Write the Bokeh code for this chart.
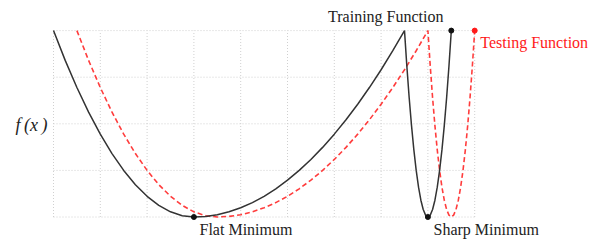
from bokeh.plotting import figure
from bokeh.models import Range1d, Label
from bokeh.embed import file_html
from bokeh.resources import INLINE

# ---- data ----
train_x = [0, 0.25, 0.5, 0.75, 1, 1.25, 1.5, 1.75, 2, 2.25, 2.5, 2.75, 3,
           3.25, 3.5, 3.75, 4, 4.25, 4.5, 4.75, 5, 5.25, 5.5, 5.75, 6, 6.25,
           6.5, 6.75, 7, 7.25, 7.5,
           7.55, 7.6, 7.65, 7.7, 7.75, 7.8, 7.85, 7.9, 7.95, 8,
           8.05, 8.1, 8.15, 8.2, 8.25, 8.3, 8.35, 8.4, 8.45, 8.5]
train_y = [4, 3.361, 2.778, 2.25, 1.778, 1.361, 1.0, 0.694, 0.444, 0.25, 0.111, 0.028, 0,
           0.012, 0.049, 0.111, 0.198, 0.309, 0.444, 0.605, 0.790, 1.0, 1.235, 1.494,
           1.778, 2.086, 2.420, 2.778, 3.160, 3.568, 4.0,
           3.24, 2.56, 1.96, 1.44, 1.0, 0.64, 0.36, 0.16, 0.04, 0,
           0.04, 0.16, 0.36, 0.64, 1.0, 1.44, 1.96, 2.56, 3.24, 4.0]
test_x = [0.5, 0.75, 1, 1.25, 1.5, 1.75, 2, 2.25, 2.5, 2.75, 3, 3.25, 3.5,
          3.75, 4, 4.25, 4.5, 4.75, 5, 5.25, 5.5, 5.75, 6, 6.25, 6.5, 6.75,
          7, 7.25, 7.5, 7.75, 8,
          8.05, 8.1, 8.15, 8.2, 8.25, 8.3, 8.35, 8.4, 8.45, 8.5,
          8.55, 8.6, 8.65, 8.7, 8.75, 8.8, 8.85, 8.9, 8.95, 9.0]
test_y = [4, 3.361, 2.778, 2.25, 1.778, 1.361, 1.0, 0.694, 0.444, 0.25, 0.111, 0.028, 0,
          0.012, 0.049, 0.111, 0.198, 0.309, 0.444, 0.605, 0.790, 1.0, 1.235, 1.494,
          1.778, 2.086, 2.420, 2.778, 3.160, 3.568, 4.0,
          3.24, 2.56, 1.96, 1.44, 1.0, 0.64, 0.36, 0.16, 0.04, 0,
          0.04, 0.16, 0.36, 0.64, 1.0, 1.44, 1.96, 2.56, 3.24, 4.0]

train_pts_x = [3, 8, 8.5]
train_pts_y = [0, 0, 4]
test_pts_x = [9]
test_pts_y = [4]

x_ticks = [0, 1, 2, 3, 4, 5, 6, 7, 8, 9]
y_ticks = [0, 1, 2, 3, 4]

label_texts = ["Training Function", "Testing Function", "Flat Minimum", "Sharp Minimum",
               "f\u2009(x\u2009)"]
label_x = [7.1, 9.12, 3.12, 8.12, -0.47]
label_y = [4.305, 3.75, -0.26, -0.26, 1.97]

# ---- figure (frame covers the whole canvas so no text is clipped) ----
W, H = 597, 242
p = figure(width=W, height=H, output_backend="svg", toolbar_location=None,
           x_range=Range1d(-1.1325, -1.1325 + W / 46.8),
           y_range=Range1d(-(H - 216.5) / 46.6, 216.5 / 46.6),
           x_axis_location=None, y_axis_location=None,
           min_border_left=0, min_border_right=0,
           min_border_top=0, min_border_bottom=0)
p.outline_line_color = None
p.grid.visible = False

grid_col = "#d0d0d0"
p.segment(x0=x_ticks, y0=[y_ticks[0]] * len(x_ticks), x1=x_ticks, y1=[y_ticks[-1]] * len(x_ticks),
          line_color=grid_col, line_width=1, line_dash="1 2")
p.segment(x0=[x_ticks[0]] * len(y_ticks), y0=y_ticks, x1=[x_ticks[-1]] * len(y_ticks), y1=y_ticks,
          line_color=grid_col, line_width=1, line_dash="1 2")

p.line(test_x, test_y, line_color="#ff1a1a", line_width=1.6, line_dash="5 3", line_alpha=0.85)
p.line(train_x, train_y, line_color="#333333", line_width=1.5)

p.scatter(train_pts_x, train_pts_y, size=5, color="#111111")
p.scatter(test_pts_x, test_pts_y, size=5, color="#ff1a1a")

colors = ["#222222", "#ff1a1a", "#222222", "#222222", "#222222"]
aligns = ["center", "left", "left", "left", "center"]
baselines = ["alphabetic", "alphabetic", "alphabetic", "alphabetic", "middle"]
styles = ["normal", "normal", "normal", "normal", "italic"]
sizes = ["16px", "16px", "16px", "16px", "18px"]
for t, lx, ly, c, a, b, s, fs in zip(label_texts, label_x, label_y, colors, aligns, baselines, styles, sizes):
    p.add_layout(Label(x=lx, y=ly, text=t, text_color=c, text_align=a, text_baseline=b,
                       text_font="Liberation Serif", text_font_size=fs, text_font_style=s))

open("out.html", "w").write(file_html(p, INLINE))
